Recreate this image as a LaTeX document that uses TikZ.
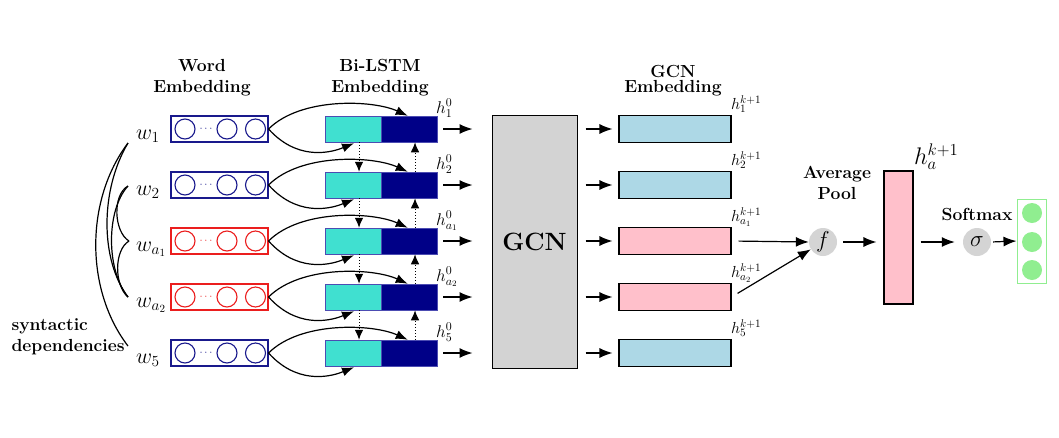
\RequirePackage{fix-cm}
\documentclass[tikz,border=0pt]{standalone}
\usetikzlibrary{arrows.meta,calc}
\definecolor{wblue}{RGB}{25,25,140}
\definecolor{wred}{RGB}{235,30,30}
\definecolor{turq}{RGB}{64,224,208}
\definecolor{navyc}{RGB}{0,0,135}
\definecolor{lblue}{RGB}{173,216,230}
\definecolor{lpink}{RGB}{255,192,203}
\definecolor{lgray}{RGB}{211,211,211}
\definecolor{cgray}{RGB}{212,212,212}
\definecolor{lgreen}{RGB}{144,238,144}
\begin{document}
\begin{tikzpicture}[x=1pt,y=-1pt,
  arr/.style={-{Latex[length=13pt,width=10pt]}, line width=1.2pt},
  carr/.style={-{Latex[length=12pt,width=9pt]}, line width=1.2pt},
  darr/.style={-{Latex[length=10pt,width=8.5pt]}, line width=1pt, dotted},
  head/.style={font=\fontsize{17.5}{21}\selectfont\bfseries, align=center},
  wbox/.style={draw, line width=1.1pt, minimum width=97pt, minimum height=26pt, inner sep=0pt},
  wcirc/.style={circle, draw, line width=1.1pt, minimum size=20pt, inner sep=0pt},
  wlab/.style={font=\fontsize{22}{26}\selectfont, inner sep=0pt, anchor=base west},
  hlab/.style={font=\fontsize{17}{20}\selectfont, inner sep=0pt, anchor=base west},
  lstmf/.style={fill=turq, draw=gray!60!blue, line width=0.5pt, minimum width=56pt, minimum height=26pt, inner sep=0pt},
  lstmb/.style={fill=navyc, draw=gray!60!blue, line width=0.5pt, minimum width=56pt, minimum height=26pt, inner sep=0pt},
  gebox/.style={draw, line width=1.1pt, minimum width=112pt, minimum height=27pt, inner sep=0pt},
  gcirc/.style={circle, fill=cgray, minimum size=28pt, inner sep=0pt, font=\fontsize{23}{26}\selectfont},
  dep/.style={line width=1.2pt}
]
\useasboundingbox (0,0) rectangle (1059,437);

% headings
\node[head] (hw) at (202,78) {Word\\Embedding};
\node[head] (hb) at (380,78) {Bi-LSTM\\Embedding};
\node[head, font=\fontsize{17.5}{15}\selectfont\bfseries] (hg) at (673,81) {GCN\\Embedding};

% GCN block
\node[draw, fill=lgray, line width=1pt, minimum width=85pt, minimum height=253pt, inner sep=0pt,
      font=\fontsize{25}{28}\selectfont\bfseries] (gcn) at (534.5,241.5) {GCN};

\foreach \i/\y/\c/\lab/\f in {1/129/wblue/1/lblue, 2/185/wblue/2/lblue, 3/241/wred/{a_1}/lpink, 4/297/wred/{a_2}/lpink, 5/353/wblue/5/lblue}{
  % word embedding
  \node[wbox, draw=\c] (wb\i) at (219.5,\y) {};
  \node[wcirc, draw=\c] (ca\i) at (185,\y) {};
  \node[wcirc, draw=\c] (cb\i) at (227,\y) {};
  \node[wcirc, draw=\c] (cc\i) at (255.5,\y) {};
  \node[text=\c, inner sep=0pt, font=\fontsize{11}{12}\selectfont] (dt\i) at (206,\y) {$\cdots$};
  \node[wlab] (w\i) at (136,\y+10) {$w_{\lab}$};
  % bi-lstm
  \node[lstmf] (lf\i) at (353,\y) {};
  \node[lstmb] (lb\i) at (409,\y) {};
  \draw[carr] (wb\i.east) .. controls +(32,-32) and +(-35,-16) .. ($(lb\i.north west)+(27,0)$);
  \draw[carr] (wb\i.east) .. controls +(27,30) and +(-27,11) .. ($(lf\i.south)+(1,1)$);
  \node[hlab] (h\i) at (436,\y-16) {$h^0_{\lab}$};
  \draw[arr, shorten <=6pt, shorten >=19pt] (lb\i.east) -- (lb\i.east -| gcn.west);
  % gcn embedding
  \node[gebox, fill=\f] (ge\i) at (675,\y) {};
  \draw[arr, shorten <=8pt, shorten >=6pt] (gcn.east |- ge\i.west) -- (ge\i.west);
  \node[hlab, font=\fontsize{16}{19}\selectfont] (hk\i) at (731,\y-20) {$h^{k+1}_{\lab}$};
}

\foreach \i/\j in {1/2,2/3,3/4,4/5}{
  \draw[darr] ($(lf\i.south)+(6,0)$) -- ($(lf\j.north)+(6,0)$);
  \draw[darr] ($(lb\j.north)+(6,0)$) -- ($(lb\i.south)+(6,0)$);
}

% syntactic dependencies
\node[head, align=left, anchor=west] (syn) at (8,337) {syntactic\\dependencies};
\coordinate (d1) at (128,143);
\coordinate (d2) at (128,186);
\coordinate (d3) at (129,241);
\coordinate (d4) at (128,297);
\coordinate (d5) at (128,346);
\draw[dep] (d1) .. controls (85,200) and (85,290) .. (d5);
\draw[dep] (d1) .. controls (100,190) and (100,260) .. (d4);
\draw[dep] (d2) .. controls (106,210) and (106,270) .. (d4);
\draw[dep] (d2) .. controls (112,195) and (114,232) .. (d3);
\draw[dep] (d3) .. controls (114,250) and (114,285) .. (d4);

% average pool
\node[gcirc] (f) at (823,242) {$f$};
\node[head] (avg) at (837,183) {Average\\Pool};
\draw[arr, shorten <=7pt] (ge3.east) -- (f.west);
\draw[arr, shorten <=7pt] (ge4.east) -- (f);
\node[draw, fill=lpink, line width=1.1pt, minimum width=29pt, minimum height=133pt, inner sep=0pt] (ha) at (898.5,237.5) {};
\node[font=\fontsize{24}{28}\selectfont, inner sep=0pt, anchor=base west] (halab) at (914,164) {$h_a^{k+1}$};
\draw[arr, shorten <=6pt, shorten >=7pt] (f.east) -- (f.east -| ha.west);

% softmax
\node[gcirc] (sig) at (977,242) {$\sigma$};
\node[head] (smx) at (977,214) {Softmax};
\draw[arr, shorten <=7pt, shorten >=8pt] (ha.east |- sig) -- (sig.west);
\node[draw=lgreen, line width=1pt, minimum width=29pt, minimum height=84pt, inner sep=0pt] (gb) at (1031.5,241) {};
\draw[arr, shorten <=2pt] (sig.east) -- (gb.west);
\node[circle, fill=lgreen, minimum size=20pt, inner sep=0pt] (g1) at (1032,213) {};
\node[circle, fill=lgreen, minimum size=20pt, inner sep=0pt] (g2) at (1032,242) {};
\node[circle, fill=lgreen, minimum size=20pt, inner sep=0pt] (g3) at (1032,270) {};
\end{tikzpicture}
\end{document}
